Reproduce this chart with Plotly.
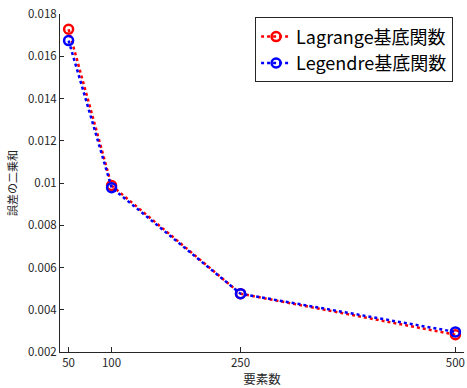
import plotly.graph_objects as go

elements = [50, 100, 250, 500]
lagrange = [0.01728, 0.00988, 0.00476, 0.00282]
legendre = [0.01674, 0.00978, 0.00476, 0.00295]
x_ticks = [50, 100, 250, 500]
y_ticks = [0.002, 0.004, 0.006, 0.008, 0.01, 0.012, 0.014, 0.016, 0.018]
y_tick_text = ["0.002", "0.004", "0.006", "0.008", "0.01", "0.012", "0.014", "0.016", "0.018"]

font_family = "Noto Sans CJK JP"

fig = go.Figure()
fig.add_trace(go.Scatter(
    x=elements, y=lagrange, name="Lagrange基底関数", mode="lines+markers",
    line=dict(color="#ff0000", width=2.5, dash="dot"),
    marker=dict(symbol="circle-open", size=9, color="#ff0000", line=dict(width=2.5, color="#ff0000")),
))
fig.add_trace(go.Scatter(
    x=elements, y=legendre, name="Legendre基底関数", mode="lines+markers",
    line=dict(color="#0000ff", width=2.5, dash="dot"),
    marker=dict(symbol="circle-open", size=9, color="#0000ff", line=dict(width=2.5, color="#0000ff")),
))

fig.update_layout(
    width=467, height=388,
    margin=dict(l=60, r=3, t=14, b=36),
    paper_bgcolor="white", plot_bgcolor="white",
    font=dict(family=font_family, size=11.5, color="#262626"),
    showlegend=True,
    legend=dict(
        x=0.973, y=0.99, xanchor="right", yanchor="top",
        bgcolor="white", bordercolor="#262626", borderwidth=1,
        font=dict(family=font_family, size=18, color="#000000"),
        tracegroupgap=0, itemwidth=30,
    ),
    xaxis=dict(
        range=[40, 510], tickvals=x_ticks, ticktext=[str(v) for v in x_ticks],
        showgrid=False, zeroline=False, showline=True, linecolor="#262626", linewidth=1,
        ticks="inside", ticklen=5, tickcolor="#262626",
        title=dict(text="要素数", standoff=2, font=dict(size=12.5)),
        mirror=False,
    ),
    yaxis=dict(
        range=[0.002, 0.018], tickvals=y_ticks, ticktext=y_tick_text,
        showgrid=False, zeroline=False, showline=True, linecolor="#262626", linewidth=1,
        ticks="inside", ticklen=4, tickcolor="#262626",
        title=dict(text="誤差の二乗和", standoff=8, font=dict(size=11)),
        mirror=False,
    ),
)

fig.write_html("out.html", config={"displayModeBar": False},
               post_script="document.body.style.margin='0px';")
